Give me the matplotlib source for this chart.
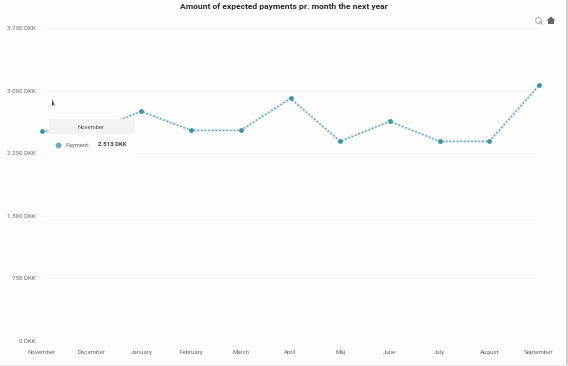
import numpy as np
import matplotlib
matplotlib.use("Agg")
import matplotlib.pyplot as plt
from matplotlib.patches import Rectangle, Polygon

plt.rcParams['font.family'] = ['Roboto', 'DejaVu Sans']

months = ['November', 'December', 'January', 'February', 'March', 'April',
          'Maj', 'June', 'July', 'August', 'September']
payments = [2513, 2520, 2751, 2524, 2524, 2907, 2392, 2632, 2392, 2392, 3062]
yticks = [0, 750, 1500, 2250, 3000, 3750]
ylabels = ['0 DKK', '750 DKK', '1.500 DKK', '2.250 DKK', '3.000 DKK', '3.750 DKK']

W, H = 568, 366
bg = '#fdfdfe'
fig = plt.figure(figsize=(W / 100, H / 100), dpi=100, facecolor=bg)
ax = fig.add_axes([42 / W, 1 - 341 / H, (539 - 42) / W, (341 - 28) / H])
ax.set_facecolor(bg)

x = np.arange(len(months))
ax.plot(x, payments, color='#d5edf3', lw=2.4, alpha=0.7, zorder=2, clip_on=False)
ax.plot(x, payments, color='#7c9aa3', lw=1.0, ls=(0, (1.2, 1.4)), zorder=3, clip_on=False)
ax.plot(x, payments, ls='none', marker='o', ms=2.4, color='#3d93a6', zorder=4, clip_on=False)

ax.set_xlim(0, len(months) - 1)
ax.set_ylim(0, 3750)
ax.set_xticks(x)
ax.set_xticklabels(months, fontsize=4.4, color='#6a6a6a')
ax.set_yticks(yticks)
ax.set_yticklabels(ylabels, fontsize=4.4, color='#6a6a6a')
ax.tick_params(axis='x', length=0, pad=6.5)
ax.tick_params(axis='y', length=0, pad=4.3)
ax.grid(axis='y', color='#f8f8fa', lw=0.6)
for s in ax.spines.values():
    s.set_visible(False)


def px(xp, yp):
    return xp / W, 1 - yp / H


# tooltip
fig.add_artist(Rectangle(px(49, 156), 86 / W, 37 / H, transform=fig.transFigure,
                         facecolor=bg, edgecolor='none', zorder=5))
fig.add_artist(Rectangle(px(49, 134), 86 / W, 15 / H, transform=fig.transFigure,
                         facecolor='#f3f3f3', edgecolor='none', zorder=6))
fig.text(*px(91, 127), 'November', fontsize=4.2, color='#555555', ha='center', va='center', zorder=7)
fig.add_artist(plt.Line2D([58 / W], [1 - 145 / H], marker='o', ms=3.2, color='#6aaec0',
                          transform=fig.transFigure, zorder=7))
fig.text(*px(66, 145), 'Payment:', fontsize=4.2, color='#666666', va='center', zorder=7)
fig.text(*px(98, 145), '2.513 DKK', fontsize=4.3, color='#444444', weight='bold', va='center', zorder=7)

fig.text(*px(283.5, 7), 'Amount of expected payments pr. month the next year', fontsize=6.1,
         weight='bold', color='#2a2a2a', ha='center', va='center')

# toolbar icons
fig.add_artist(plt.Line2D([537.5 / W], [1 - 19.5 / H], marker='o', ms=4.2, mfc='none', mec='#b0b0b0',
                          mew=0.8, transform=fig.transFigure))
fig.add_artist(plt.Line2D([539.5 / W, 542 / W], [1 - 21.5 / H, 1 - 24 / H], color='#b0b0b0', lw=0.9,
                          transform=fig.transFigure))
fig.add_artist(Polygon([px(546.5, 20.5), px(551, 16.5), px(555.5, 20.5), px(554, 20.5), px(554, 24),
                        px(548, 24), px(548, 20.5)], transform=fig.transFigure,
                       facecolor='#666666', edgecolor='none'))

# mouse pointer
fig.add_artist(Polygon([px(52, 99), px(52, 106), px(53.5, 104.5), px(55.5, 107)],
                       transform=fig.transFigure, facecolor='#444444', edgecolor='none'))

# window edge on the right and bottom
fig.add_artist(Rectangle(px(566, H), 2 / W, 1, transform=fig.transFigure, facecolor='#d0d0d0', edgecolor='none'))
fig.add_artist(Rectangle(px(0, H), 1, 1.5 / H, transform=fig.transFigure, facecolor='#e6e6e6', edgecolor='none'))

fig.savefig('out.png', dpi=100, facecolor=fig.get_facecolor())
